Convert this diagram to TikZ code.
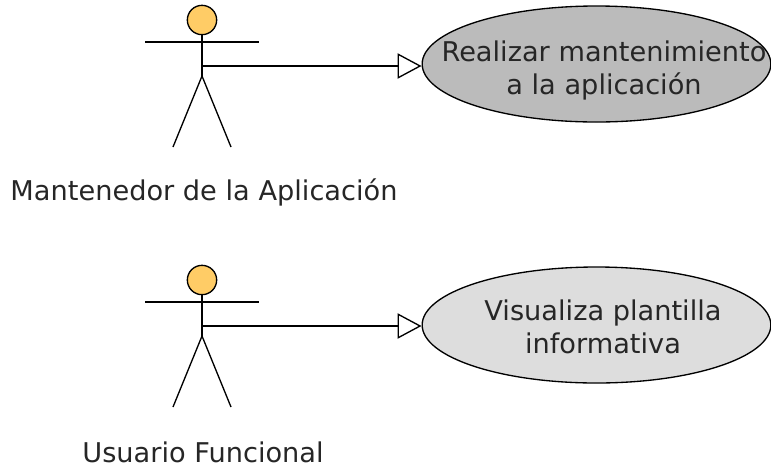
\documentclass[tikz,border=0pt]{standalone}
\usepackage{fontspec}
\setmainfont{DejaVu Sans}
\usetikzlibrary{arrows.meta,shapes.geometric}
\definecolor{actorfill}{HTML}{FFCC66}
\definecolor{darkcase}{HTML}{BBBBBB}
\definecolor{lightcase}{HTML}{DDDDDD}
\begin{document}
\begin{tikzpicture}[
  x=0.75pt,y=-0.75pt,
  line width=1pt,
  every node/.style={inner sep=0pt,font=\fontsize{20.4}{24.75}\selectfont,text=black!85},
  usecase/.style={draw,ellipse,minimum width=261.5pt,minimum height=87pt},
  caselabel/.style={align=center},
  actorhead/.style={draw,circle,fill=actorfill,minimum size=22pt},
  generalize/.style={-{Triangle[open,fill=white,length=18pt,width=19pt]}}
  ]
  \useasboundingbox (0,0) rectangle (771,469);

  \coordinate (Mhip) at (202,76);
  \coordinate (Mfootl) at (173,147);
  \coordinate (Mfootr) at (231,147);
  \coordinate (Marml) at (145,42);
  \coordinate (Marmr) at (259,42);
  \node[actorhead] (Mhead) at (202,20) {};
  \draw (Mhead) -- (Mhip);
  \draw (Marml) -- (Marmr);
  \draw (Mfootl) -- (Mhip) -- (Mfootr);
  \node (Mtext) at (204,192) {Mantenedor de la Aplicación};
  \node[usecase,fill=darkcase] (Mcase) at (596.5,64) {};
  \node[caselabel] (Mlabel) at (604,70) {Realizar mantenimiento\\a la aplicación};
  \coordinate (Mstart) at (202,66);
  \draw[generalize] (Mstart) -- (Mstart -| Mcase.west);

  \coordinate (Uhip) at (202,336);
  \coordinate (Ufootl) at (173,407);
  \coordinate (Ufootr) at (231,407);
  \coordinate (Uarml) at (145,302);
  \coordinate (Uarmr) at (259,302);
  \node[actorhead] (Uhead) at (202,280) {};
  \draw (Uhead) -- (Uhip);
  \draw (Uarml) -- (Uarmr);
  \draw (Ufootl) -- (Uhip) -- (Ufootr);
  \node (Utext) at (203,452) {Usuario Funcional};
  \node[usecase,fill=lightcase] (Ucase) at (596.5,325) {};
  \node[caselabel] (Ulabel) at (603,327) {Visualiza plantilla\\informativa};
  \coordinate (Ustart) at (202,326);
  \draw[generalize] (Ustart) -- (Ustart -| Ucase.west);
\end{tikzpicture}
\end{document}
